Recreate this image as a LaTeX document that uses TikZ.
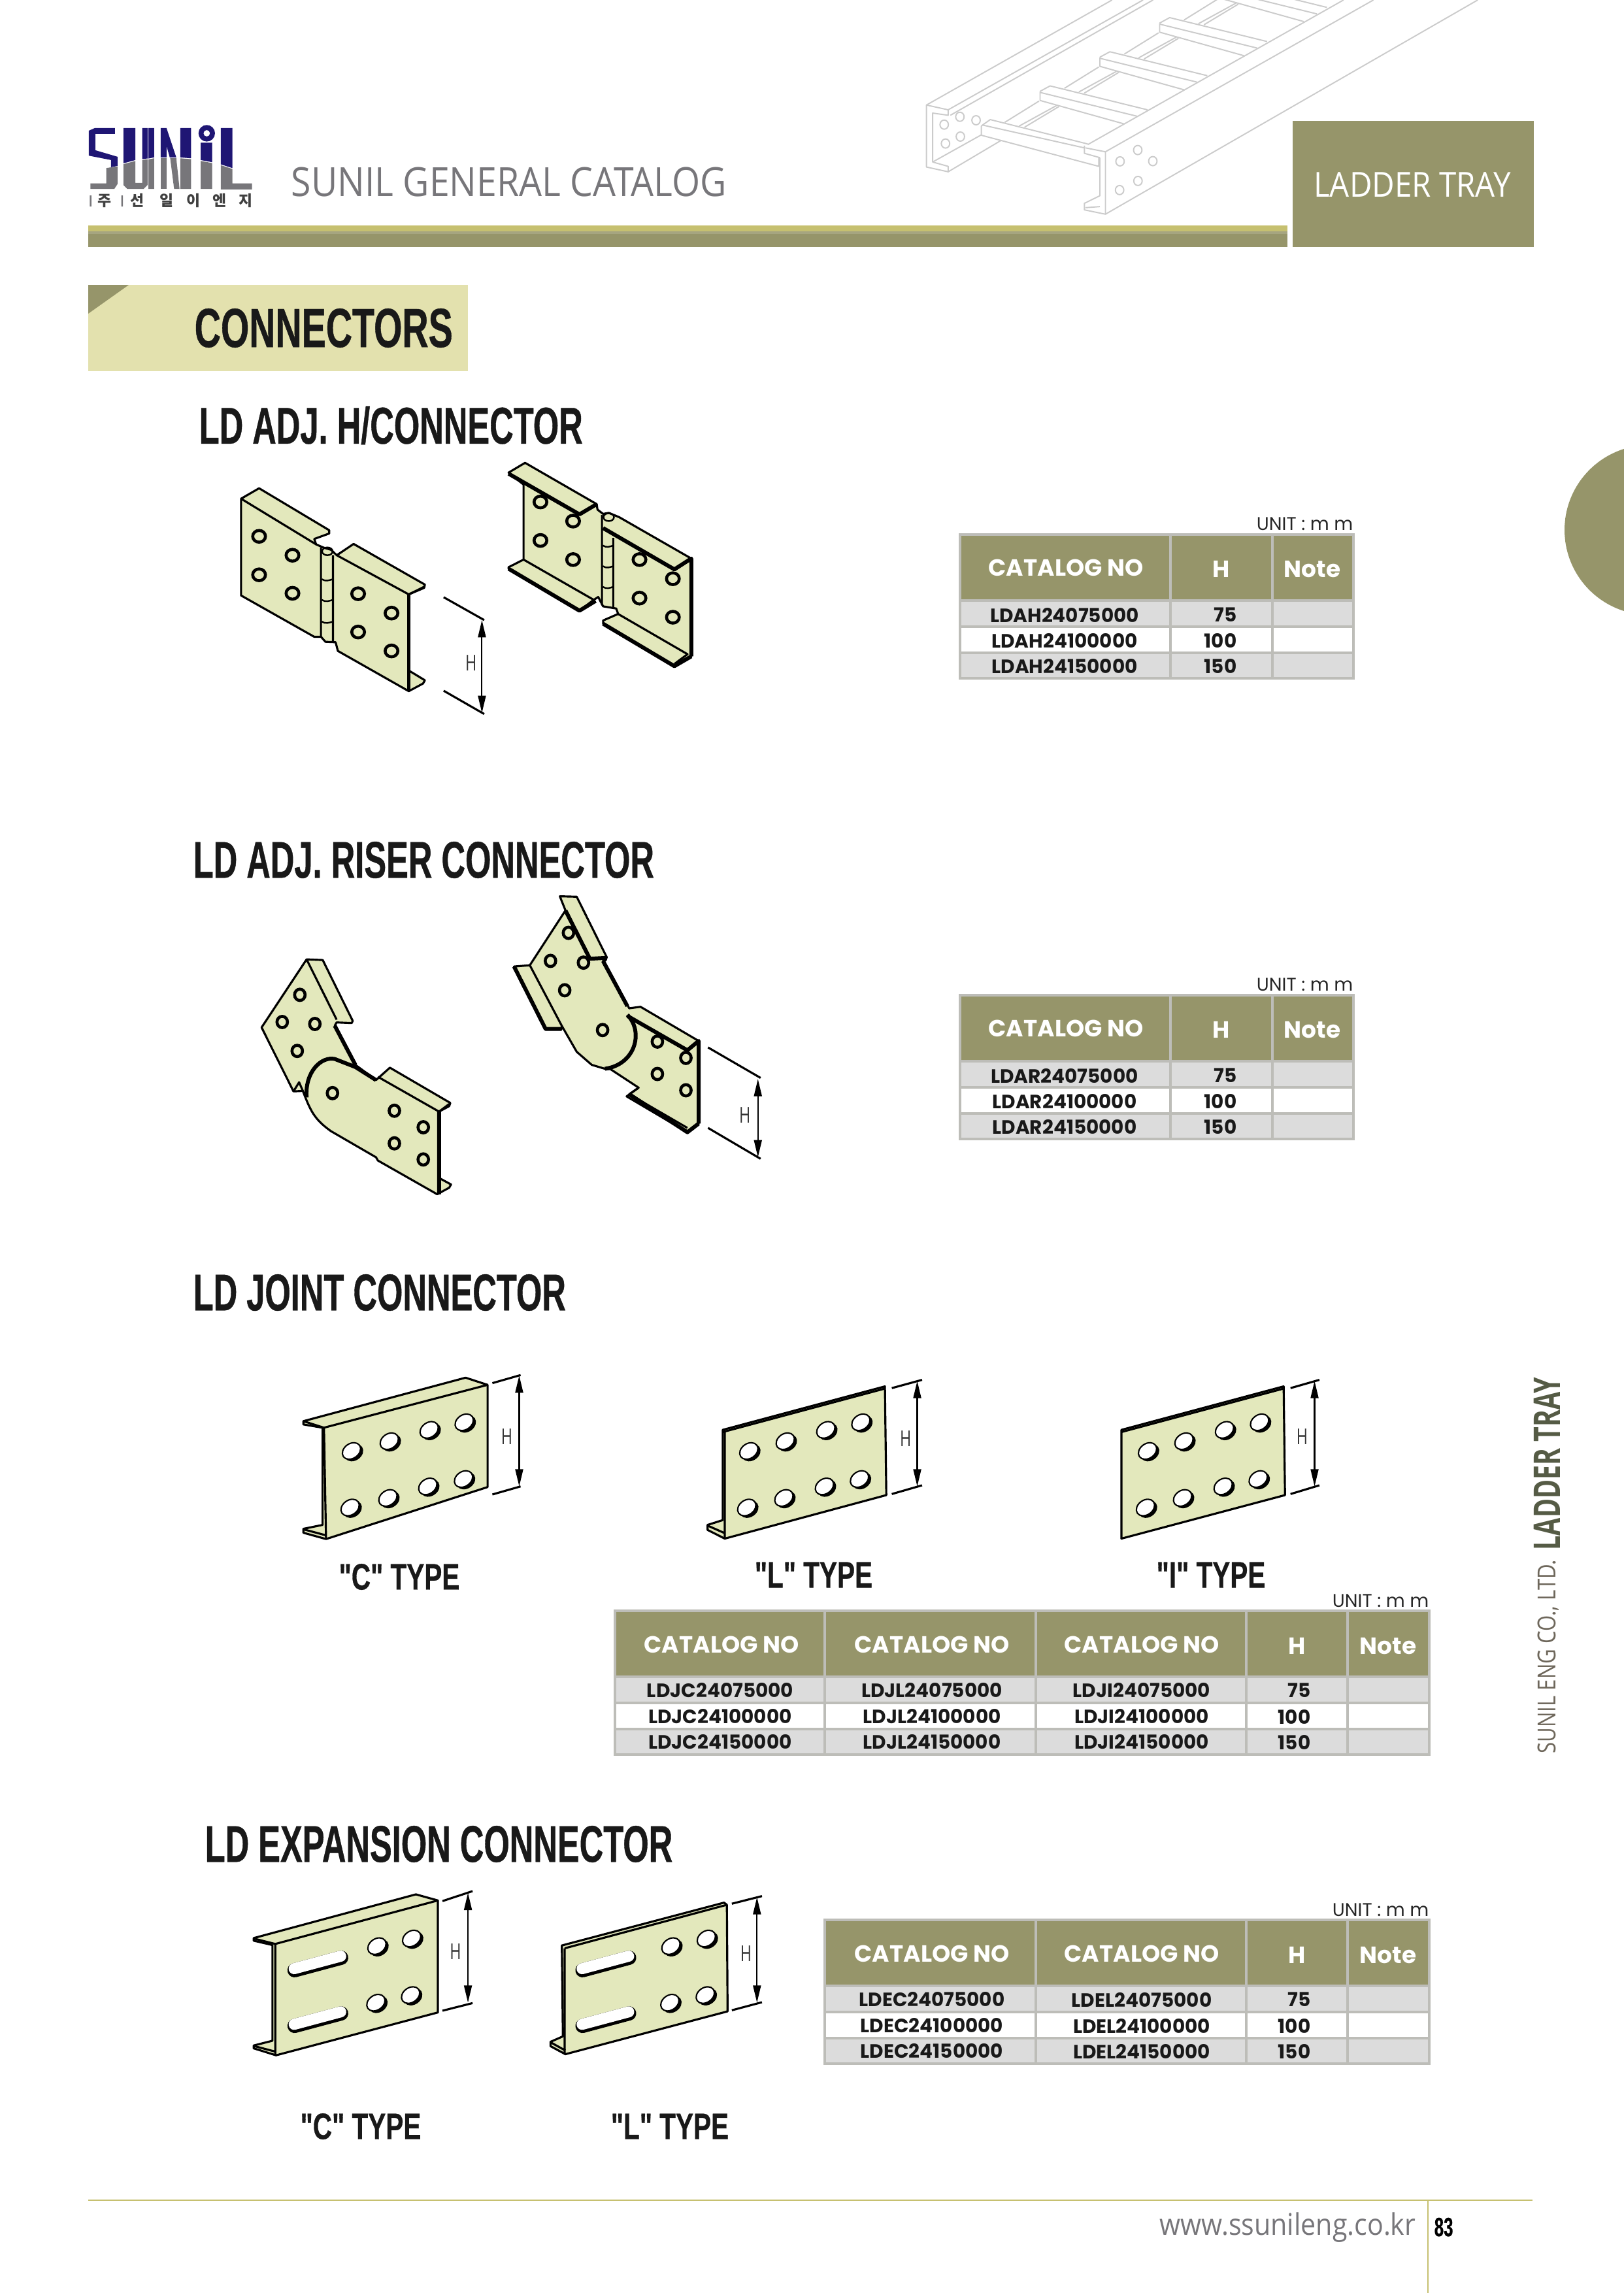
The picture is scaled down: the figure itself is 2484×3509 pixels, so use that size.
\documentclass[tikz,border=0pt]{standalone}
\usepackage{fontspec}
\usepackage{tikz}
\usetikzlibrary{arrows.meta}
\setmainfont{Open Sans}
\newfontfamily\titlefont[FakeStretch=.64,FakeBold=.5]{Liberation Sans}
\newfontfamily\sectionfont[FakeStretch=.66,FakeBold=.5]{Liberation Sans}
\newfontfamily\typefont[FakeStretch=.72,FakeBold=.5]{Liberation Sans}
\newfontfamily\tablefont{Poppins}
\newfontfamily\sidefont[FakeStretch=.7]{Open Sans}
\newfontfamily\sidecofont[FakeStretch=.82]{Open Sans}
\newfontfamily\pagefont[FakeStretch=.9]{Open Sans}
\newfontfamily\krfont{Noto Sans CJK KR}
\definecolor{olivebar}{HTML}{96956A}
\definecolor{stripe}{HTML}{C6C070}
\definecolor{tabback}{HTML}{E3E1AE}
\definecolor{platefill}{HTML}{E3E8BC}
\definecolor{gridgray}{HTML}{BDBDB8}
\definecolor{rowgray}{HTML}{DCDCDC}
\definecolor{traygray}{HTML}{CBCBCB}
\definecolor{logoblue}{HTML}{1F1674}
\definecolor{logogray}{HTML}{77767A}
\definecolor{sidedark}{HTML}{555B45}
\definecolor{sidebrown}{HTML}{6E675B}
\tikzset{
  hingecoords/.style={shift={(300,660)},x=.00574cm,y=-.00333cm},
  risercoords/.style={shift={(340,1340)},x=.00574cm,y=-.00333cm},
  jointcoords/.style={shift={(420,2060)},x=.01052cm,y=-.00333cm},
  expancoords/.style={shift={(360,2860)},x=.00542cm,y=-.00333cm},
  traycoords/.style={shift={(1400,0)},x=.00338cm,y=-.00333cm},
  logocoords/.style={shift={(120,180)},x=.00333cm,y=-.00333cm},
  plate/.style={fill=platefill,draw=black,line width=.9pt,line join=round},
  plateline/.style={line width=.9pt,line join=round},
  platethick/.style={line width=1.7pt,line join=round},
  holeline/.style={fill=platefill,draw=black,line width=1.3pt},
  dimline/.style={line width=.9pt},
  dimarrow/.style={{Stealth[length=7.5pt,width=3.4pt,inset=0pt]}-{Stealth[length=7.5pt,width=3.4pt,inset=0pt]},line width=.6pt},
  dimlabel/.style={font=\sidefont\fontsize{9.5}{9.5}\selectfont,text=black!80,inner sep=0pt},
  titlelabel/.style={font=\titlefont\bfseries\fontsize{22.5}{22.5}\selectfont,text=black!90,anchor=west,inner sep=0pt},
  typelabel/.style={font=\typefont\bfseries\fontsize{16}{16}\selectfont,text=black!90,inner sep=0pt},
  headtext/.style={font=\tablefont\bfseries\fontsize{10.2}{10.2}\selectfont,text=white,inner sep=0pt},
  celltext/.style={font=\tablefont\bfseries\fontsize{8.4}{8.4}\selectfont,text=black!90,inner sep=0pt},
  unittext/.style={font=\tablefont\fontsize{8}{8}\selectfont,text=black!85,anchor=east,inner sep=0pt},
  traylines/.style={draw=traygray,line width=.55pt,line join=round},
  logobar/.style={fill=logogray},
  logotext/.style={font=\krfont\bfseries\fontsize{6.5}{6.5}\selectfont,text=black!75,inner sep=0pt},
}
\newcommand{\platehole}[2]{\draw[holeline] (#1,#2) circle [x radius=17,y radius=27];}
\newcommand{\riserhole}[2]{\draw[holeline] (#1,#2) circle [x radius=14,y radius=26];}
\newcommand{\ovalhole}[2]{
  \fill[black,shift={(#1,#2)},rotate=35,xshift=.4pt,yshift=-1.2pt] (0,0) circle [x radius=4.4pt,y radius=3.4pt];
  \draw[fill=white,line width=.6pt,shift={(#1,#2)},rotate=35] (0,0) circle [x radius=4.3pt,y radius=3.2pt];
}
\newcommand{\longslot}[2]{
  \draw[line width=6.2pt,line cap=round,shift={(#1,#2)},rotate=15] (-10.5pt,-.7pt) -- (10.5pt,-.7pt);
  \draw[white,line width=4.8pt,line cap=round,shift={(#1,#2)},rotate=15] (-10.5pt,0pt) -- (10.5pt,0pt);
}
\newcommand{\tablecol}[3]{
  \draw[draw=gridgray,line width=.9pt,fill=olivebar] (#1,#3) rectangle (#2,#3+101);
  \draw[draw=gridgray,line width=.9pt,fill=rowgray] (#1,#3+101) rectangle (#2,#3+141);
  \draw[draw=gridgray,line width=.9pt,fill=white] (#1,#3+141) rectangle (#2,#3+181);
  \draw[draw=gridgray,line width=.9pt,fill=rowgray] (#1,#3+181) rectangle (#2,#3+220);
}
\begin{document}
\begin{tikzpicture}[x=.01cm,y=-.01cm]
\useasboundingbox (0,0) rectangle (2484,3509);

% tray behind the header
\begin{scope}[traycoords]
\draw[traylines] (52,483) -- (890,0) (150,505) -- (1030,0) (160,530) -- (1075,0);
\draw[traylines] (52,483) -- (150,505) -- (150,530) -- (80,520) -- (80,745) -- (150,765) -- (150,790) -- (52,768) -- cycle;
\draw[traylines] (150,790) -- (390,645) (80,745) -- (300,620);
\foreach \hx/\hy in {132/573,203/537,276/553,205/628,138/660,926/742,1006/690,1074/741,1007/832,924/874}
  \draw[traylines] (\hx,\hy) circle [x radius=19,y radius=21];
\draw[traylines] (305,575) -- (340,550) -- (780,662) (305,575) -- (765,680);
\draw[traylines] (305,575) -- (300,580) -- (300,622) -- (830,765) -- (830,725);
\draw[traylines] (765,670) -- (765,705) -- (835,725);
\draw[traylines] (770,680) -- (860,698) -- (860,985) -- (765,965) -- (765,935) -- (835,900) -- (835,725);
\draw[traylines] (770,955) -- (835,950);
\draw[traylines] (780,665) -- (1935,0) (860,698) -- (2070,0) (860,985) -- (2541,0);
\foreach \dx/\dy in {0/0,270/-157,540/-314,810/-471}{
  \draw[traylines] (565+\dx,420+\dy) -- (610+\dx,395+\dy) -- (1050+\dx,505+\dy);
  \draw[traylines] (565+\dx,425+\dy) -- (1005+\dx,535+\dy);
  \draw[traylines] (565+\dx,420+\dy) -- (565+\dx,462+\dy) -- (945+\dx,570+\dy);
}
\foreach \dx/\dy in {0/0,270/-157,540/-314,810/-471}{
  \draw[traylines] (405+\dx,563+\dy) -- (560+\dx,465+\dy);
  \draw[traylines] (470+\dx,580+\dy) -- (640+\dx,485+\dy);
  \draw[traylines] (495+\dx,585+\dy) -- (650+\dx,490+\dy);
}
\end{scope}

% logo
\begin{scope}[logocoords]
\fill[logoblue] (48,60) -- (75,48) -- (168,48) -- (168,75) -- (78,75) -- (78,150) -- (180,180) -- (180,222) -- (150,228) -- (150,195) -- (48,175) -- cycle;
\fill[logoblue] (207,48) -- (262,48) -- (262,195) -- (207,210) -- cycle;
\fill[logoblue] (293,48) -- (318,48) -- (318,188) -- (293,190) -- cycle;
\fill[logoblue] (322,48) -- (348,48) -- (348,183) -- (322,188) -- cycle;
\fill[logoblue] (378,48) -- (405,48) -- (450,183) -- (420,183) -- (405,130) -- (405,183) -- (378,183) -- cycle;
\fill[logoblue] (468,48) -- (518,48) -- (518,187) -- (468,183) -- cycle;
\fill[logoblue] (562,115) -- (615,115) -- (615,205) -- (562,195) -- cycle;
\fill[logoblue,even odd rule] (590,72) circle [radius=38] (590,72) circle [radius=15];
\fill[logoblue] (655,48) -- (708,48) -- (708,232) -- (655,215) -- cycle;
\fill[logogray] (128,232) -- (180,224) -- (180,305) -- (165,328) -- (55,328) -- (55,302) -- (128,302) -- cycle;
\fill[logogray] (207,214) -- (262,199) -- (262,300) -- (293,300) -- (293,194) -- (318,192) -- (318,310) -- (300,328) -- (225,328) -- (207,310) -- cycle;
\fill[logogray] (322,192) -- (348,187) -- (348,328) -- (322,328) -- cycle;
\fill[logogray] (378,187) -- (405,187) -- (405,328) -- (378,328) -- cycle;
\fill[logogray] (422,187) -- (450,187) -- (465,328) -- (440,328) -- cycle;
\fill[logogray] (468,187) -- (518,191) -- (518,328) -- (468,328) -- cycle;
\fill[logogray] (562,199) -- (615,209) -- (615,328) -- (562,328) -- cycle;
\fill[logogray] (655,219) -- (708,236) -- (708,302) -- (798,302) -- (798,330) -- (655,330) -- cycle;
\fill[logobar] (52,358) rectangle (60,408) (197,358) rectangle (205,408);
\foreach \kx/\kc/\kn in {120/주/ja,270/선/seon,405/일/il,530/이/i,650/엔/en,770/지/ji}
  \node[logotext] (logo\kn) at (\kx,382) {\kc};
\end{scope}
\node[font=\pagefont\fontsize{17.5}{17.5}\selectfont,text=logogray,anchor=west,inner sep=0pt] (catalog) at (445,278) {SUNIL GENERAL CATALOG};

% header band and box
\fill[stripe] (135,345) rectangle (1970,354);
\fill[olivebar!85!white] (135,354) rectangle (1970,358);
\fill[olivebar] (135,358) rectangle (1970,378);
\fill[olivebar] (1978,185) rectangle (2347,378);
\node[font=\pagefont\fontsize{15}{15}\selectfont,text=white,inner sep=0pt] (trayname) at (2161,283) {LADDER TRAY};
\fill[olivebar] (2524,811) circle [radius=130];

% section tab
\fill[tabback] (135,436) rectangle (716,568);
\fill[olivebar] (135,436) -- (197,436) -- (135,480) -- cycle;
\node[font=\sectionfont\bfseries\fontsize{24}{24}\selectfont,text=black!90,anchor=west,inner sep=0pt] (section) at (297,502) {CONNECTORS};

% titles
\node[titlelabel] (hingetitle) at (304,651) {LD ADJ. H/CONNECTOR};
\node[titlelabel] (risertitle) at (295,1316) {LD ADJ. RISER CONNECTOR};
\node[titlelabel] (jointtitle) at (295,1978) {LD JOINT CONNECTOR};
\node[titlelabel] (expantitle) at (313,2822) {LD EXPANSION CONNECTOR};

% adj. hinge connectors
\begin{scope}[hingecoords]
\draw[plate] (120,310) -- (168,262) -- (355,455) -- (355,470) -- (315,495) -- (320,520) -- (340,535) -- (360,545) -- (375,570) -- (420,518) -- (610,705) -- (608,720) -- (567,750) -- (567,1100) -- (610,1145) -- (605,1160) -- (567,1195) -- (378,1010) -- (372,970) -- (345,968) -- (333,945) -- (315,945) -- (120,755) -- cycle;
\draw[plateline] (120,310) -- (320,520) (375,570) -- (567,750) -- (608,715) (333,535) -- (333,945) (365,570) -- (365,970);
\draw[platethick] (567,750) -- (567,1195);
\foreach \k in {680,775,875}
  \draw[line width=.7pt] (335,\k) .. controls (345,\k+12) and (355,\k+5) .. (365,\k);
\draw[line width=.7pt] (350,552) circle [x radius=14,y radius=18];
\foreach \hx/\hy in {168/483,257/570,168/660,257/745,432/747,521/836,432/923,521/1010}{
  \platehole{\hx}{\hy}
}
\draw[dimline] (660,763) -- (768,868) (660,1193) -- (768,1300);
\draw[dimarrow] (762,868) -- (762,1295);
\node[dimlabel] (hingeH) at (733,1065) {H};

\draw[plate] (833,190) -- (877,145) -- (1068,335) -- (1070,360) -- (1085,380) -- (1100,375) -- (1128,395) -- (1320,585) -- (1320,1035) -- (1275,1080) -- (1085,885) -- (1085,870) -- (1125,840) -- (1120,815) -- (1085,805) -- (1072,762) -- (1060,775) -- (1022,825) -- (833,632) -- (833,625) -- (873,590) -- (873,245) -- cycle;
\draw[platethick] (833,195) -- (1022,382) -- (1068,335) (1085,445) -- (1275,635) -- (1320,585) -- (1320,1035);
\draw[platethick] (833,632) -- (1022,825) -- (1065,780) (1085,885) -- (1275,1080) -- (1320,1035);
\draw[plateline] (873,590) -- (1060,775) (1125,840) -- (1310,1025) -- (1275,1070) (1082,385) -- (1082,800) (1112,490) -- (1112,810);
\foreach \k in {525,620,715}
  \draw[line width=.7pt] (1084,\k) .. controls (1094,\k+12) and (1104,\k+5) .. (1112,\k);
\draw[line width=.7pt] (1100,395) circle [x radius=14,y radius=18];
\foreach \hx/\hy in {918/325,1005/413,918/502,1005/590,1182/590,1271/678,1182/767,1271/855}{
  \platehole{\hx}{\hy}
}
\end{scope}

% adj. riser connectors
\begin{scope}[risercoords]
\draw[plate] (105,698) -- (225,385) -- (268,388) -- (348,668) -- (345,678) -- (305,675) -- (300,690) -- (355,870) -- (410,940) -- (447,883) -- (608,1045) -- (605,1060) -- (578,1085) -- (578,1390) -- (610,1420) -- (605,1435) -- (573,1465) -- (415,1310) -- (410,1295) -- (290,1175) .. controls (245,1120) and (235,1080) .. (215,990) -- (190,992) -- cycle;
\draw[plateline] (225,385) -- (305,662) (190,992) -- (205,950) -- (215,990);
\draw[platethick] (225,1020) .. controls (220,900) and (265,830) .. (300,843) -- (355,880) -- (410,940);
\draw[plateline] (415,925) -- (578,1085) -- (605,1050);
\draw[platethick] (578,1085) -- (578,1465) (300,690) -- (355,870);
\foreach \hx/\hy in {207/548,160/673,247/682,200/806,294/1000,459/1081,536/1157,459/1231,536/1305}{
  \riserhole{\hx}{\hy}
}

\draw[plate] (900,95) -- (945,97) -- (1025,375) -- (1022,390) -- (1015,392) -- (1085,610) -- (1115,603) -- (1270,760) -- (1270,1140) -- (1240,1180) -- (1078,1015) -- (1110,975) -- (1035,890) -- (1020,888) -- (985,870) -- (945,810) -- (905,690) -- (905,705) -- (862,705) -- (778,418) -- (820,412) -- (915,160) -- cycle;
\draw[platethick] (915,160) -- (980,382) -- (1025,378) (1015,392) -- (1080,600) (778,418) -- (862,705) -- (905,705);
\draw[plateline] (820,412) -- (905,690);
\draw[platethick] (1080,645) -- (1240,803) -- (1270,760) -- (1270,1140) (1085,1005) -- (1240,1180) -- (1270,1140);
\draw[platethick] (1080,640) .. controls (1125,720) and (1100,870) .. (1020,888);
\draw[plateline] (1110,975) -- (1085,1005) -- (1240,1160);
\foreach \hx/\hy in {923/263,875/392,963/400,913/527,1014/710,1160/763,1236/838,1160/912,1236/987}{
  \riserhole{\hx}{\hy}
}
\draw[dimline] (1295,790) -- (1435,930) (1295,1160) -- (1435,1302);
\draw[dimarrow] (1428,935) -- (1428,1295);
\node[dimlabel] (riserH) at (1393,1100) {H};
\end{scope}

% joint connectors
\begin{scope}[jointcoords]
\draw[plate] (42,345) -- (278,145) -- (310,178) -- (310,648) -- (75,887) -- (42,858) -- (42,840) -- (70,822) -- (70,375) -- (42,360) -- cycle;
\draw[plateline] (42,345) -- (72,375) -- (310,178) (72,375) -- (75,887) (42,842) -- (75,870);
\foreach \hx/\hy in {112/482,167/437,225/385,276/350,110/742,165/698,223/645,275/611}{
  \ovalhole{\hx}{\hy}
}
\draw[dimline] (317,170) -- (358,133) (317,682) -- (358,645);
\draw[dimarrow] (356,135) -- (356,645);
\node[dimlabel] (jointcH) at (338,415) {H};

\draw[plate] (652,385) -- (888,185) -- (890,685) -- (655,885) -- (630,845) -- (630,822) -- (652,800) -- cycle;
\draw[plateline] (652,395) -- (888,195) (655,395) -- (655,885) (630,825) -- (655,860);
\foreach \hx/\hy in {690/482,743/437,802/385,853/350,687/742,741/698,800/645,851/611}{
  \ovalhole{\hx}{\hy}
}
\draw[dimline] (898,193) -- (942,155) (898,680) -- (942,640);
\draw[dimarrow] (935,160) -- (935,645);
\node[dimlabel] (jointlH) at (918,425) {H};

\draw[plate] (1232,385) -- (1468,185) -- (1470,685) -- (1232,885) -- cycle;
\draw[plateline] (1232,395) -- (1468,195);
\foreach \hx/\hy in {1270/482,1323/437,1382/385,1433/350,1267/742,1321/698,1380/645,1431/611}{
  \ovalhole{\hx}{\hy}
}
\draw[dimline] (1478,193) -- (1520,155) (1478,680) -- (1520,640);
\draw[dimarrow] (1513,160) -- (1513,645);
\node[dimlabel] (jointiH) at (1495,415) {H};
\end{scope}
\node[typelabel] (jointc) at (611,2413) {"C" TYPE};
\node[typelabel] (jointl) at (1245,2410) {"L" TYPE};
\node[typelabel] (jointi) at (1853,2410) {"I" TYPE};

% expansion connectors
\begin{scope}[expancoords]
\draw[plate] (52,318) -- (510,117) -- (572,145) -- (572,660) -- (115,857) -- (52,825) -- (52,812) -- (105,790) -- (105,350) -- (52,330) -- cycle;
\draw[plateline] (52,320) -- (113,345) -- (572,145) (113,345) -- (113,855) (52,814) -- (113,840);
\longslot{232}{430}
\longslot{232}{686}
\foreach \hx/\hy in {400/355,498/320,397/615,495/580}{
  \ovalhole{\hx}{\hy}
}
\draw[dimline] (585,148) -- (670,102) (585,652) -- (670,617);
\draw[dimarrow] (657,110) -- (657,615);
\node[dimlabel] (expancH) at (622,380) {H};

\draw[plate] (922,352) -- (1380,155) -- (1388,165) -- (1390,655) -- (932,852) -- (890,815) -- (890,795) -- (925,770) -- cycle;
\draw[plateline] (930,365) -- (1388,165) (930,365) -- (930,852) (890,797) -- (932,835);
\longslot{1045}{430}
\longslot{1045}{686}
\foreach \hx/\hy in {1230/355,1330/320,1227/615,1327/580}{
  \ovalhole{\hx}{\hy}
}
\draw[dimline] (1402,160) -- (1487,125) (1402,650) -- (1487,613);
\draw[dimarrow] (1473,130) -- (1473,615);
\node[dimlabel] (expanlH) at (1442,390) {H};
\end{scope}
\node[typelabel] (expanc) at (552,3254) {"C" TYPE};
\node[typelabel] (expanl) at (1025,3254) {"L" TYPE};

% table adj. hinge
\tablecol{1469}{1791}{818}
\tablecol{1791}{1947}{818}
\tablecol{1947}{2071}{818}
\node[unittext] (hingeunit) at (2071,802) {UNIT : m m};
\node[headtext] (hingecat) at (1631,869) {CATALOG NO};
\node[headtext] (hingehh) at (1869,871) {H};
\node[headtext] (hingenote) at (2008,871) {Note};
\foreach \r/\y/\code/\h in {a/941/24075000/75,b/980/24100000/100,c/1019/24150000/150}{
  \node[celltext] (hinge\r) at (1629,\y) {LDAH\code};
  \node[celltext,anchor=east] (hinge\r h) at (1893,\y) {\h};
}

% table adj. riser
\tablecol{1469}{1791}{1523}
\tablecol{1791}{1947}{1523}
\tablecol{1947}{2071}{1523}
\node[unittext] (riserunit) at (2071,1507) {UNIT : m m};
\node[headtext] (risercat) at (1631,1574) {CATALOG NO};
\node[headtext] (riserhh) at (1869,1576) {H};
\node[headtext] (risernote) at (2008,1576) {Note};
\foreach \r/\y/\code/\h in {a/1646/24075000/75,b/1685/24100000/100,c/1724/24150000/150}{
  \node[celltext] (riser\r) at (1629,\y) {LDAR\code};
  \node[celltext,anchor=east] (riser\r h) at (1893,\y) {\h};
}

% table joint
\tablecol{941}{1262}{2465}
\tablecol{1262}{1585}{2465}
\tablecol{1585}{1907}{2465}
\tablecol{1907}{2062}{2465}
\tablecol{2062}{2187}{2465}
\node[unittext] (jointunit) at (2187,2450) {UNIT : m m};
\node[headtext] (jointcatc) at (1104,2517) {CATALOG NO};
\node[headtext] (jointcatl) at (1426,2517) {CATALOG NO};
\node[headtext] (jointcati) at (1747,2517) {CATALOG NO};
\node[headtext] (jointhh) at (1985,2519) {H};
\node[headtext] (jointnote) at (2124,2519) {Note};
\foreach \r/\y/\code/\h in {a/2587/24075000/75,b/2627/24100000/100,c/2666/24150000/150}{
  \node[celltext] (jointc\r) at (1102,\y) {LDJC\code};
  \node[celltext] (jointl\r) at (1426,\y) {LDJL\code};
  \node[celltext] (jointi\r) at (1747,\y) {LDJI\code};
  \node[celltext,anchor=east] (joint\r h) at (2006,\y) {\h};
}

% table expansion
\tablecol{1262}{1585}{2938}
\tablecol{1585}{1907}{2938}
\tablecol{1907}{2062}{2938}
\tablecol{2062}{2187}{2938}
\node[unittext] (expanunit) at (2187,2923) {UNIT : m m};
\node[headtext] (expancatc) at (1426,2990) {CATALOG NO};
\node[headtext] (expancatl) at (1747,2990) {CATALOG NO};
\node[headtext] (expanhh) at (1985,2992) {H};
\node[headtext] (expannote) at (2124,2992) {Note};
\foreach \r/\y/\code/\h in {a/3060/24075000/75,b/3100/24100000/100,c/3139/24150000/150}{
  \node[celltext] (expanc\r) at (1426,\y) {LDEC\code};
  \node[celltext] (expanl\r) at (1747,\y) {LDEL\code};
  \node[celltext,anchor=east] (expan\r h) at (2006,\y) {\h};
}

% side text
\node[font=\sidefont\bfseries\fontsize{16}{16}\selectfont,text=sidedark,rotate=90,anchor=west,inner sep=0pt] (sidetray) at (2367,2373) {LADDER TRAY};
\node[font=\sidecofont\fontsize{10.8}{10.8}\selectfont,text=sidebrown,rotate=90,anchor=west,inner sep=0pt] (sideco) at (2369,2684) {SUNIL ENG CO., LTD.};

% footer
\draw[stripe,line width=.8pt] (135,3367) -- (2345,3367);
\draw[stripe,line width=.8pt] (2185,3367) -- (2185,3509);
\node[font=\pagefont\fontsize{13}{13}\selectfont,text=logogray,anchor=base east,inner sep=0pt] (website) at (2167,3420) {www.ssunileng.co.kr};
\node[font=\titlefont\bfseries\fontsize{11.5}{11.5}\selectfont,text=black,anchor=base west,inner sep=0pt] (pageno) at (2194,3422) {83};
\end{tikzpicture}
\end{document}
